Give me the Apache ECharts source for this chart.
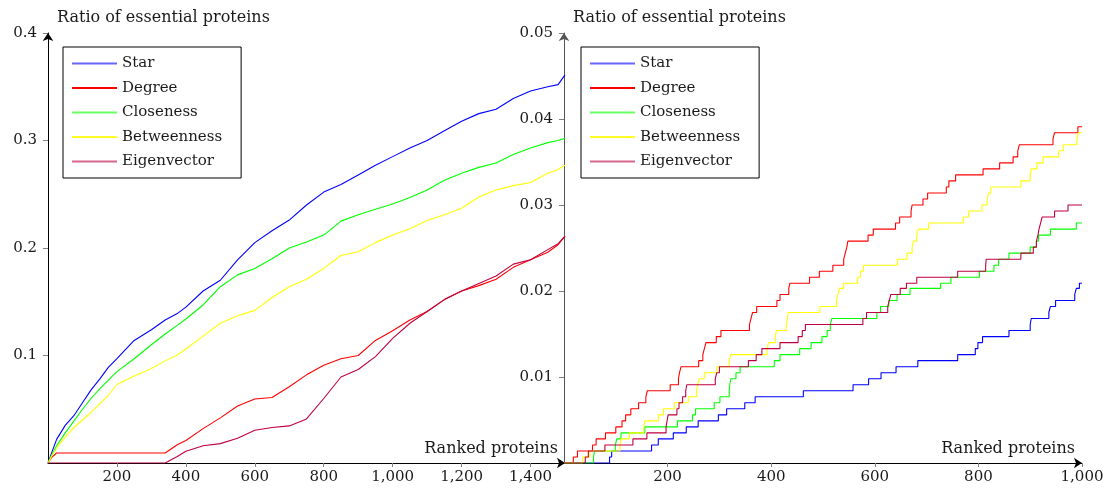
<!DOCTYPE html>
<html>
<head>
<meta charset="utf-8">
<title>Ratio of essential proteins</title>
<script src="https://cdn.jsdelivr.net/npm/echarts@6/dist/echarts.min.js"></script>
<style>
html,body{margin:0;padding:0;background:#fff;}
#main{width:1109px;height:492px;}
</style>
</head>
<body>
<div id="main"></div>
<script>
// series names + colours (same order in both panels)
var names = ['Star', 'Degree', 'Closeness', 'Betweenness', 'Eigenvector'];
var colors = ['#0000ff', '#ff0000', '#00ff00', '#ffff00', '#bf0040'];
var legendOpacity = [0.6, 1, 0.6, 0.85, 0.6];

// left panel: ranked proteins 0..1500
var leftX = [0, 10, 25, 50, 75, 100, 125, 150, 175, 200, 250, 300, 340, 375, 400, 450, 500, 550, 600, 650,
  700, 750, 800, 850, 900, 950, 1000, 1050, 1100, 1150, 1200, 1250, 1300, 1350, 1400, 1450, 1480, 1500];
var starL = [0, 0.009, 0.022, 0.035, 0.044, 0.056, 0.068, 0.078, 0.089, 0.097, 0.114, 0.124, 0.133, 0.139, 0.145, 0.160, 0.170, 0.189, 0.205, 0.216,
  0.226, 0.240, 0.252, 0.259, 0.268, 0.277, 0.285, 0.293, 0.300, 0.309, 0.318, 0.325, 0.329, 0.339, 0.346, 0.350, 0.352, 0.361];
var degreeL = [0, 0.005, 0.0093, 0.0093, 0.0093, 0.0093, 0.0093, 0.0093, 0.0093, 0.0093, 0.0093, 0.0093, 0.0093, 0.017, 0.021, 0.032, 0.042, 0.053, 0.0595, 0.061,
  0.071, 0.082, 0.091, 0.097, 0.100, 0.114, 0.123, 0.133, 0.141, 0.152, 0.160, 0.165, 0.171, 0.182, 0.189, 0.196, 0.203, 0.211];
var closenessL = [0, 0.007, 0.016, 0.028, 0.039, 0.050, 0.060, 0.069, 0.077, 0.085, 0.097, 0.110, 0.120, 0.128, 0.134, 0.147, 0.164, 0.175, 0.181, 0.190,
  0.200, 0.2055, 0.212, 0.225, 0.231, 0.236, 0.241, 0.247, 0.254, 0.263, 0.2695, 0.275, 0.279, 0.287, 0.293, 0.298, 0.300, 0.302];
var betweennessL = [0, 0.006, 0.014, 0.024, 0.033, 0.040, 0.047, 0.055, 0.063, 0.073, 0.081, 0.088, 0.095, 0.1005, 0.106, 0.118, 0.130, 0.137, 0.142, 0.154,
  0.164, 0.171, 0.181, 0.193, 0.1965, 0.205, 0.212, 0.218, 0.2255, 0.231, 0.237, 0.2475, 0.254, 0.258, 0.261, 0.2695, 0.273, 0.277];
var eigenL = [0, 0, 0, 0, 0, 0, 0, 0, 0, 0, 0, 0, 0, 0.006, 0.011, 0.016, 0.018, 0.023, 0.0305, 0.033,
  0.0345, 0.041, 0.060, 0.080, 0.087, 0.099, 0.116, 0.130, 0.141, 0.152, 0.160, 0.167, 0.174, 0.185, 0.189, 0.1985, 0.204, 0.211];

// right panel: top 1000, step curves (x where the ratio steps up, new ratio)
var starRX = [0, 88, 92, 169, 182, 211, 236, 259, 298, 314, 349, 369, 462, 558, 588, 612, 641, 683, 760, 794,
  799, 808, 859, 900, 902, 936, 939, 949, 986, 989, 995, 1000];
var starRY = [0, 0.0007, 0.0014, 0.0021, 0.0028, 0.0035, 0.0042, 0.0049, 0.0056, 0.0063, 0.0070, 0.0077, 0.0084, 0.0091, 0.0098, 0.0105, 0.0112, 0.0119, 0.0126, 0.0133,
  0.0140, 0.0147, 0.0154, 0.0161, 0.0168, 0.0175, 0.0182, 0.0189, 0.0196, 0.0203, 0.0209, 0.0209];
var degreeRX = [0, 18, 26, 55, 62, 80, 100, 112, 119, 129, 144, 158, 161, 205, 221, 223, 226, 260, 268, 271,
  274, 294, 303, 358, 361, 364, 372, 411, 417, 434, 436, 474, 493, 519, 540, 543, 546, 548, 587, 597,
  640, 648, 670, 672, 693, 702, 738, 743, 756, 809, 841, 867, 876, 879, 944, 947, 992, 1000];
var degreeRY = [0, 0.0007, 0.0014, 0.0021, 0.0028, 0.0035, 0.0042, 0.0049, 0.0056, 0.0063, 0.0070, 0.0077, 0.0084, 0.0091, 0.0098, 0.0105, 0.0112, 0.0119, 0.0126, 0.0133,
  0.0140, 0.0147, 0.0154, 0.0161, 0.0168, 0.0175, 0.0182, 0.0189, 0.0196, 0.0203, 0.0209, 0.0216, 0.0223, 0.0230, 0.0237, 0.0244, 0.0251, 0.0258, 0.0265, 0.0272,
  0.0279, 0.0286, 0.0293, 0.0300, 0.0307, 0.0314, 0.0321, 0.0328, 0.0335, 0.0342, 0.0349, 0.0356, 0.0363, 0.0370, 0.0377, 0.0384, 0.0391, 0.0391];
var closenessRX = [0, 57, 59, 99, 102, 110, 156, 219, 248, 254, 290, 301, 319, 320, 322, 332, 340, 406, 417, 455,
  477, 498, 508, 514, 517, 604, 611, 627, 643, 668, 727, 747, 802, 830, 839, 859, 900, 912, 916, 939, 989, 1000];
var closenessRY = [0, 0.0007, 0.0014, 0.0021, 0.0028, 0.0035, 0.0042, 0.0049, 0.0056, 0.0063, 0.0070, 0.0077, 0.0084, 0.0091, 0.0098, 0.0105, 0.0112, 0.0119, 0.0126, 0.0133,
  0.0140, 0.0147, 0.0154, 0.0161, 0.0168, 0.0175, 0.0182, 0.0189, 0.0196, 0.0203, 0.0209, 0.0216, 0.0223, 0.0230, 0.0237, 0.0244, 0.0251, 0.0258, 0.0265, 0.0272, 0.0279, 0.0279];
var betweennessRX = [0, 36, 50, 108, 110, 126, 154, 156, 182, 192, 213, 240, 256, 258, 261, 271, 295, 319, 322, 392,
  395, 408, 410, 429, 431, 433, 494, 526, 529, 532, 540, 567, 572, 578, 644, 662, 672, 675, 681, 684,
  704, 771, 781, 807, 817, 820, 824, 882, 900, 902, 913, 925, 955, 964, 990, 993, 1000];
var betweennessRY = [0, 0.0007, 0.0014, 0.0021, 0.0028, 0.0035, 0.0042, 0.0049, 0.0056, 0.0063, 0.0070, 0.0077, 0.0084, 0.0091, 0.0098, 0.0105, 0.0112, 0.0119, 0.0126, 0.0133,
  0.0140, 0.0147, 0.0154, 0.0161, 0.0168, 0.0175, 0.0182, 0.0189, 0.0196, 0.0203, 0.0209, 0.0216, 0.0223, 0.0230, 0.0237, 0.0244, 0.0251, 0.0258, 0.0265, 0.0272,
  0.0279, 0.0286, 0.0293, 0.0300, 0.0307, 0.0314, 0.0321, 0.0328, 0.0335, 0.0342, 0.0349, 0.0356, 0.0363, 0.0370, 0.0377, 0.0384, 0.0384];
var eigenRX = [0, 41, 47, 79, 133, 160, 197, 199, 201, 218, 222, 229, 235, 237, 292, 295, 300, 356, 371, 382,
  417, 452, 460, 466, 577, 584, 625, 628, 631, 649, 661, 681, 760, 814, 815, 882, 906, 912, 915, 917,
  920, 923, 947, 973, 1000];
var eigenRY = [0, 0.0007, 0.0014, 0.0021, 0.0028, 0.0035, 0.0042, 0.0049, 0.0056, 0.0063, 0.0070, 0.0077, 0.0084, 0.0091, 0.0098, 0.0105, 0.0112, 0.0119, 0.0126, 0.0133,
  0.0140, 0.0147, 0.0154, 0.0161, 0.0168, 0.0175, 0.0182, 0.0189, 0.0196, 0.0203, 0.0209, 0.0216, 0.0223, 0.0230, 0.0237, 0.0244, 0.0251, 0.0258, 0.0265, 0.0272,
  0.0279, 0.0286, 0.0293, 0.0300, 0.0300];

// tick labels
var leftXTicks = [200, 400, 600, 800, 1000, 1200, 1400];
var leftYTicks = [0.1, 0.2, 0.3, 0.4];
var rightXTicks = [200, 400, 600, 800, 1000];
var rightYTicks = [0.01, 0.02, 0.03, 0.04, 0.05];

var FONT = 'DejaVu Serif';
var TXT = '#1a1a1a';

function pairs(xs, ys) {
  var out = [];
  for (var i = 0; i < xs.length; i++) out.push([xs[i], ys[i]]);
  return out;
}

function xAxisFor(grid, max, ticks) {
  return {
    gridIndex: grid, type: 'value', min: 0, max: max,
    name: 'Ranked proteins', nameLocation: 'end', nameGap: -7,
    nameTextStyle: {fontFamily: FONT, fontSize: 16, color: TXT, align: 'right', verticalAlign: 'bottom', padding: [0, 0, 6, 0]},
    axisLine: {show: true, onZero: false, symbol: ['none', 'arrow'], symbolSize: [8, 8], lineStyle: {color: '#000', width: 1}},
    axisTick: {show: true, customValues: ticks, length: 4, lineStyle: {color: '#808080'}},
    axisLabel: {customValues: ticks, margin: 7, fontFamily: FONT, fontSize: 15, color: TXT,
      formatter: function (v) { return v.toLocaleString('en-US'); }},
    splitLine: {show: false}
  };
}

function yAxisFor(grid, max, ticks, lineColor) {
  return {
    gridIndex: grid, type: 'value', min: 0, max: max,
    name: 'Ratio of essential proteins', nameLocation: 'end', nameGap: 7,
    nameTextStyle: {fontFamily: FONT, fontSize: 16, color: TXT, align: 'left', verticalAlign: 'bottom', padding: [0, 0, 0, 9]},
    axisLine: {show: true, onZero: false, symbol: ['none', 'arrow'], symbolSize: [8, 8], lineStyle: {color: lineColor, width: 1}},
    axisTick: {show: true, customValues: ticks, length: 5, lineStyle: {color: '#808080'}},
    axisLabel: {customValues: ticks, margin: 11, fontFamily: FONT, fontSize: 15, color: TXT},
    splitLine: {show: false}
  };
}

function legendAt(left) {
  var items = [];
  for (var k = 0; k < names.length; k++) {
    items.push({name: names[k], icon: 'rect', itemStyle: {color: colors[k], opacity: legendOpacity[k]}});
  }
  return {
    left: left, top: 47, orient: 'vertical', data: items,
    itemWidth: 45, itemHeight: 2, itemGap: 9.5,
    padding: [9, 19, 9, 9],
    borderColor: '#000', borderWidth: 1, backgroundColor: '#fff',
    textStyle: {fontFamily: FONT, fontSize: 15, color: TXT}
  };
}

var leftData = [starL, degreeL, closenessL, betweennessL, eigenL];
var rightData = [[starRX, starRY], [degreeRX, degreeRY], [closenessRX, closenessRY],
  [betweennessRX, betweennessRY], [eigenRX, eigenRY]];

var series = [];
for (var i = 0; i < names.length; i++) {
  series.push({
    name: names[i], type: 'line', xAxisIndex: 0, yAxisIndex: 0,
    data: pairs(leftX, leftData[i]), symbol: 'none', smooth: false,
    lineStyle: {color: colors[i], width: 1.1}, itemStyle: {color: colors[i]}
  });
}
for (var j = 0; j < names.length; j++) {
  series.push({
    name: names[j], type: 'line', xAxisIndex: 1, yAxisIndex: 1, step: 'end',
    data: pairs(rightData[j][0], rightData[j][1]), symbol: 'none',
    lineStyle: {color: colors[j], width: 1.1}, itemStyle: {color: colors[j]}
  });
}

var option = {
  animation: false,
  backgroundColor: '#fff',
  textStyle: {fontFamily: FONT},
  grid: [
    {left: 48, top: 33, width: 517, height: 430, outerBoundsMode: 'none', containLabel: false},
    {left: 564, top: 33, width: 518, height: 430, outerBoundsMode: 'none', containLabel: false}
  ],
  legend: [legendAt(63), legendAt(581)],
  xAxis: [xAxisFor(0, 1500, leftXTicks), xAxisFor(1, 1000, rightXTicks)],
  yAxis: [yAxisFor(0, 0.4, leftYTicks, '#000'), yAxisFor(1, 0.05, rightYTicks, '#555')],
  series: series
};

var myChart = echarts.init(document.getElementById('main'), null, {renderer: 'canvas'});
myChart.setOption(option);
</script>
</body>
</html>
